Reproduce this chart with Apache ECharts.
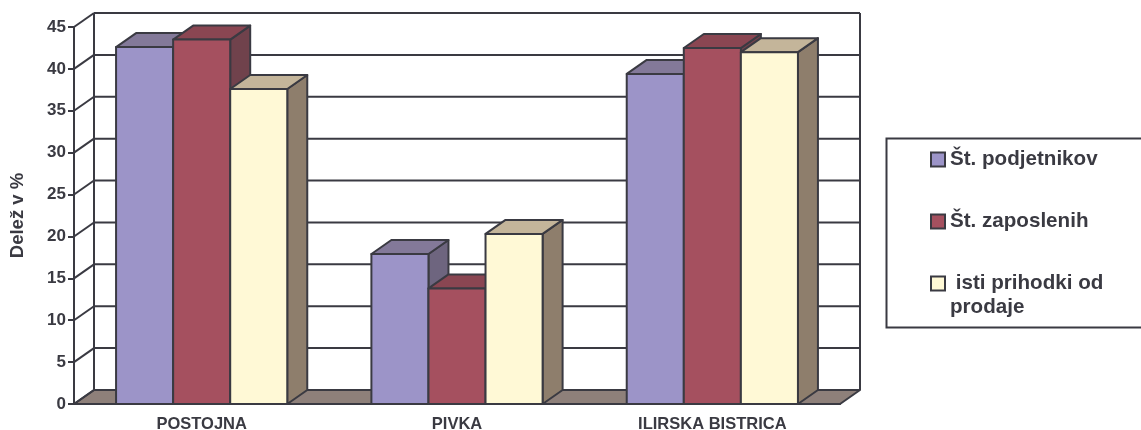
<!DOCTYPE html>
<html><head><meta charset="utf-8">
<style>html,body{margin:0;padding:0;background:#fff}#c{width:1141px;height:430px}</style>
<script src="https://cdn.jsdelivr.net/npm/echarts@6/dist/echarts.min.js"></script>
</head><body><div id="c"></div>
<script>
const categories = ['POSTOJNA', 'PIVKA', 'ILIRSKA BISTRICA'];
const podjetniki = [42.6, 17.9, 39.4];
const zaposleni = [43.5, 13.8, 42.5];
const prihodki = [37.6, 20.3, 42.0];
const yTicks = [0, 5, 10, 15, 20, 25, 30, 35, 40, 45];
const names = ['Št. podjetnikov', 'Št. zaposlenih', 'isti prihodki od prodaje'];

const INK = '#3a3a42', DX = 20, DY = -14, LW = 2;
const FONT = '"Liberation Sans", Arial, sans-serif';
const palettes = [
  { front: '#9c94c8', top: '#837999', side: '#6e657f' },
  { front: '#a5505f', top: '#8a4652', side: '#70424c' },
  { front: '#fff9d6', top: '#c4b59a', side: '#8e7e6c' }
];
const stroke = { stroke: INK, lineWidth: LW, lineJoin: 'round' };
const line = (a, b) => ({ type: 'line', shape: { x1: a[0], y1: a[1], x2: b[0], y2: b[1] }, style: { stroke: INK, lineWidth: LW } });
const poly = (points, fill) => ({ type: 'polygon', shape: { points }, style: { fill, ...stroke } });

function renderWall(params, api) {
  const v = api.value(0), cs = params.coordSys;
  const y = api.coord([0, v])[1], xl = cs.x, xr = cs.x + cs.width;
  const kids = [];
  if (v === 0) kids.push(poly([[xl, y], [xl + DX, y + DY], [xr + DX, y + DY], [xr, y]], '#8e807a'));
  kids.push(line([xl + DX, y + DY], [xr + DX, y + DY]));
  kids.push(line([xl, y], [xl + DX, y + DY]));
  if (v === yTicks[yTicks.length - 1]) {
    const y0 = api.coord([0, 0])[1];
    kids.push(line([xl + DX, y + DY], [xl + DX, y0 + DY]));
    kids.push(line([xr + DX, y + DY], [xr + DX, y0 + DY]));
  }
  return { type: 'group', children: kids };
}
function barRenderer(k) {
  return function (params, api) {
    const i = api.value(0), val = api.value(1);
    const band = api.size([1, 0])[0], w = band * 0.2235;
    const c = api.coord([i, val]), b = api.coord([i, 0]);
    const x0 = c[0] - 1.5 * w + k * w, x1 = x0 + w, yt = c[1], yb = b[1];
    const p = palettes[k];
    return { type: 'group', children: [
      poly([[x1, yt], [x1 + DX, yt + DY], [x1 + DX, yb + DY], [x1, yb]], p.side),
      poly([[x0, yt], [x0 + DX, yt + DY], [x1 + DX, yt + DY], [x1, yt]], p.top),
      poly([[x0, yt], [x1, yt], [x1, yb], [x0, yb]], p.front)
    ] };
  };
}
const barSeries = [podjetniki, zaposleni, prihodki].map((vals, k) => ({
  type: 'custom', name: names[k], renderItem: barRenderer(k), clip: false, z: 3 + k,
  itemStyle: { color: palettes[k].front, borderColor: INK, borderWidth: 2 },
  encode: { x: 0, y: 1 },
  data: vals.map((v, i) => [i, v])
}));

const chart = echarts.init(document.getElementById('c'), null, { renderer: 'canvas' });
chart.setOption({
  animation: false,
  backgroundColor: '#fff',
  textStyle: { fontFamily: FONT },
  grid: { left: 74, top: 27, width: 766, height: 377, containLabel: false, outerBoundsMode: 'none' },
  xAxis: {
    type: 'category', data: categories, boundaryGap: true,
    axisLine: { lineStyle: { color: INK, width: 2 } },
    axisTick: { length: 6, lineStyle: { color: INK, width: 2 } },
    axisLabel: { color: INK, fontWeight: 'bold', fontSize: 16.5, margin: 12, fontFamily: FONT }
  },
  yAxis: {
    type: 'value', min: 0, max: 45, interval: 5,
    name: 'Delež v %', nameLocation: 'middle', nameGap: 47, nameRotate: 90,
    nameTextStyle: { color: INK, fontWeight: 'bold', fontSize: 18.5, fontFamily: FONT },
    axisLine: { show: true, lineStyle: { color: INK, width: 2 } },
    axisTick: { show: true, length: 6, lineStyle: { color: INK, width: 2 } },
    axisLabel: { color: INK, fontWeight: 'bold', fontSize: 17, margin: 8, padding: [4, 0, 0, 0], fontFamily: FONT },
    splitLine: { show: false }
  },
  legend: {
    orient: 'vertical', left: 925, top: 144, itemWidth: 14, itemHeight: 14, itemGap: 41,
    icon: 'rect', selectedMode: false,
    data: names,
    formatter: n => n === names[2] ? ' isti prihodki od' : n,
    textStyle: { color: INK, fontWeight: 'bold', fontSize: 20.6, fontFamily: FONT }
  },
  graphic: [
    { type: 'rect', left: 884, top: 136, shape: { width: 300, height: 189 }, style: { fill: 'none', stroke: INK, lineWidth: 2 }, z: 1 },
    { type: 'text', left: 950, top: 297, style: { text: 'prodaje', fill: INK, font: 'bold 20.6px ' + FONT }, z: 5 }
  ],
  series: [{
    type: 'custom', name: 'wall', renderItem: renderWall, clip: false, z: 2,
    encode: { x: 0, y: 1 }, silent: true,
    data: yTicks.slice().map(v => [v])
  }].concat(barSeries)
});
</script></body></html>
